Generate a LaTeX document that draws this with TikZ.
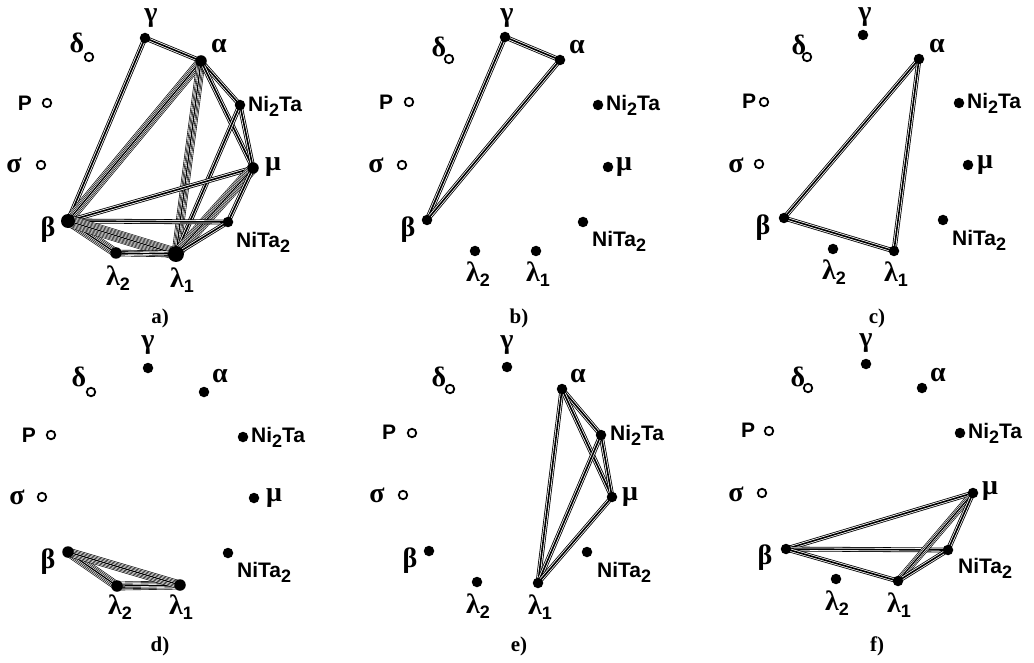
\documentclass[tikz,border=0pt]{standalone}
\usepackage{fontspec}
\setmainfont{Liberation Serif}
\newfontfamily\sfb{Liberation Sans}
\pgfdeclarelayer{bg}
\pgfsetlayers{bg,main}
\newcommand{\bund}[4]{%
  \pgfmathtruncatemacro{\bn}{2*#1-2}%
  \foreach \i in {0,...,\bn}{%
    \pgfmathsetmacro{\bw}{(2*#1-1-\i)*#2}%
    \ifodd\i\relax \def\bc{white}\else\def\bc{black}\fi
    \draw[line width=\bw pt,draw=\bc] (#3.center) -- (#4.center);
  }}
\newcommand{\dd}[2]{\bund{2}{1.6}{#1}{#2}}
\newcommand{\gsub}[2]{#1\raisebox{-5pt}{\sfb\bfseries\fontsize{18}{18}\selectfont #2}}
\newcommand{\tsub}[1]{\raisebox{-5pt}{\fontsize{18}{18}\selectfont #1}}
\tikzset{
  dot/.style={circle,fill=black,inner sep=0pt,minimum size=10.5pt},
  bigdot/.style={circle,fill=black,inner sep=0pt,minimum size=14pt},
  odot/.style={circle,draw=black,line width=1.8pt,fill=white,inner sep=0pt,minimum size=8.5pt},
  gk/.style={inner sep=0pt,font=\bfseries\fontsize{28}{28}\selectfont},
  sl/.style={inner sep=0pt,font=\sfb\bfseries\fontsize{21}{21}\selectfont},
  captxt/.style={inner sep=0pt,font=\bfseries\fontsize{21}{21}\selectfont}
}
\begin{document}
\begin{tikzpicture}[x=1pt,y=-1pt]
\useasboundingbox (0,0) rectangle (1034,663);
% ---------- panel a ----------
\node[dot] (a-ga) at (145,38) {};  \node[gk] (a-tga) at (151,18) {γ};
\node[dot,minimum size=11.5pt] (a-al) at (201,61) {};  \node[gk] (a-tal) at (219,46) {α};
\node[odot] (a-de) at (89,57) {};  \node[gk] (a-tde) at (77,43) {δ};
\node[odot] (a-P) at (47,103) {};  \node[sl] (a-tP) at (25,103) {P};
\node[odot] (a-si) at (41,165) {}; \node[gk] (a-tsi) at (14,165) {σ};
\node[dot] (a-n2) at (240,105) {}; \node[sl,anchor=west] (a-tn2) at (248,106) {Ni\tsub{2}Ta};
\node[dot,minimum size=11.5pt] (a-mu) at (253,168) {}; \node[gk] (a-tmu) at (273,167) {μ};
\node[bigdot] (a-be) at (68,221) {}; \node[gk] (a-tbe) at (48,230) {β};
\node[dot] (a-nt) at (228,222) {}; \node[sl,anchor=west] (a-tnt) at (236,242) {NiTa\tsub{2}};
\node[dot,minimum size=11.5pt] (a-l2) at (116,253) {}; \node[gk] (a-tl2) at (118,278) {\gsub{λ}{2}};
\node[bigdot,minimum size=16pt] (a-l1) at (176,254) {}; \node[gk] (a-tl1) at (182,280) {\gsub{λ}{1}};
\node[captxt] (a-cap) at (160,318) {a)};
% ---------- panel b ----------
\node[dot] (b-ga) at (505,37) {};  \node[gk] (b-tga) at (507,18) {γ};
\node[dot] (b-al) at (560,60) {};  \node[gk] (b-tal) at (577,47) {α};
\node[odot] (b-de) at (449,59) {}; \node[gk] (b-tde) at (439,47) {δ};
\node[odot] (b-P) at (409,102) {}; \node[sl] (b-tP) at (386,102) {P};
\node[odot] (b-si) at (402,165) {}; \node[gk] (b-tsi) at (376,165) {σ};
\node[dot] (b-n2) at (598,105) {}; \node[sl,anchor=west] (b-tn2) at (606,105) {Ni\tsub{2}Ta};
\node[dot] (b-mu) at (608,167) {}; \node[gk] (b-tmu) at (624,167) {μ};
\node[dot] (b-be) at (427,220) {}; \node[gk] (b-tbe) at (408,230) {β};
\node[dot] (b-nt) at (583,222) {}; \node[sl,anchor=west] (b-tnt) at (592,241) {NiTa\tsub{2}};
\node[dot] (b-l2) at (475,251) {}; \node[gk] (b-tl2) at (478,274) {\gsub{λ}{2}};
\node[dot] (b-l1) at (536,251) {}; \node[gk] (b-tl1) at (538,274) {\gsub{λ}{1}};
\node[captxt] (b-cap) at (519,318) {b)};
% ---------- panel c ----------
\node[dot] (c-ga) at (863,35) {};  \node[gk] (c-tga) at (865,17) {γ};
\node[dot] (c-al) at (919,59) {};  \node[gk] (c-tal) at (937,46) {α};
\node[odot] (c-de) at (807,57) {}; \node[gk] (c-tde) at (799,45) {δ};
\node[odot] (c-P) at (764,102) {}; \node[sl] (c-tP) at (749,101) {P};
\node[odot] (c-si) at (759,164) {}; \node[gk] (c-tsi) at (736,165) {σ};
\node[dot] (c-n2) at (959,103) {}; \node[sl,anchor=west] (c-tn2) at (967,103) {Ni\tsub{2}Ta};
\node[dot] (c-mu) at (968,165) {}; \node[gk] (c-tmu) at (985,165) {μ};
\node[dot] (c-be) at (784,218) {}; \node[gk] (c-tbe) at (763,228) {β};
\node[dot] (c-nt) at (943,220) {}; \node[sl,anchor=west] (c-tnt) at (952,240) {NiTa\tsub{2}};
\node[dot] (c-l2) at (833,249) {}; \node[gk] (c-tl2) at (834,272) {\gsub{λ}{2}};
\node[dot] (c-l1) at (894,251) {}; \node[gk] (c-tl1) at (896,274) {\gsub{λ}{1}};
\node[captxt] (c-cap) at (877,318) {c)};
% ---------- panel d ----------
\node[dot] (d-ga) at (148,368) {};  \node[gk] (d-tga) at (148,345) {γ};
\node[dot] (d-al) at (204,392) {};  \node[gk] (d-tal) at (220,376) {α};
\node[odot] (d-de) at (91,392) {}; \node[gk] (d-tde) at (79,377) {δ};
\node[odot] (d-P) at (51,435) {}; \node[sl] (d-tP) at (29,435) {P};
\node[odot] (d-si) at (42,497) {}; \node[gk] (d-tsi) at (17,497) {σ};
\node[dot] (d-n2) at (243,437) {}; \node[sl,anchor=west] (d-tn2) at (251,437) {Ni\tsub{2}Ta};
\node[dot] (d-mu) at (254,498) {}; \node[gk] (d-tmu) at (274,498) {μ};
\node[dot,minimum size=11.5pt] (d-be) at (68,552) {}; \node[gk] (d-tbe) at (48,562) {β};
\node[dot] (d-nt) at (228,553) {}; \node[sl,anchor=west] (d-tnt) at (237,572) {NiTa\tsub{2}};
\node[dot,minimum size=11.5pt] (d-l2) at (117,586) {}; \node[gk] (d-tl2) at (120,607) {\gsub{λ}{2}};
\node[dot,minimum size=11.5pt] (d-l1) at (180,585) {}; \node[gk] (d-tl1) at (181,607) {\gsub{λ}{1}};
\node[captxt] (d-cap) at (160,646) {d)};
% ---------- panel e ----------
\node[dot] (e-ga) at (507,367) {};  \node[gk] (e-tga) at (507,345) {γ};
\node[dot] (e-al) at (562,389) {};  \node[gk] (e-tal) at (578,376) {α};
\node[odot] (e-de) at (450,389) {}; \node[gk] (e-tde) at (439,377) {δ};
\node[odot] (e-P) at (412,433) {}; \node[sl] (e-tP) at (389,432) {P};
\node[odot] (e-si) at (403,495) {}; \node[gk] (e-tsi) at (377,495) {σ};
\node[dot] (e-n2) at (601,435) {}; \node[sl,anchor=west] (e-tn2) at (610,435) {Ni\tsub{2}Ta};
\node[dot] (e-mu) at (612,497) {}; \node[gk] (e-tmu) at (630,497) {μ};
\node[dot] (e-be) at (429,551) {}; \node[gk] (e-tbe) at (410,561) {β};
\node[dot] (e-nt) at (587,552) {}; \node[sl,anchor=west] (e-tnt) at (597,572) {NiTa\tsub{2}};
\node[dot] (e-l2) at (477,582) {}; \node[gk] (e-tl2) at (478,606) {\gsub{λ}{2}};
\node[dot] (e-l1) at (538,583) {}; \node[gk] (e-tl1) at (540,607) {\gsub{λ}{1}};
\node[captxt] (e-cap) at (519,646) {e)};
% ---------- panel f ----------
\node[dot] (f-ga) at (866,364) {};  \node[gk] (f-tga) at (866,343) {γ};
\node[dot] (f-al) at (922,388) {};  \node[gk] (f-tal) at (938,375) {α};
\node[odot] (f-de) at (808,388) {}; \node[gk] (f-tde) at (798,377) {δ};
\node[odot] (f-P) at (769,431) {}; \node[sl] (f-tP) at (748,430) {P};
\node[odot] (f-si) at (762,493) {}; \node[gk] (f-tsi) at (736,494) {σ};
\node[dot] (f-n2) at (960,433) {}; \node[sl,anchor=west] (f-tn2) at (968,433) {Ni\tsub{2}Ta};
\node[dot] (f-mu) at (973,493) {}; \node[gk] (f-tmu) at (990,491) {μ};
\node[dot] (f-be) at (786,549) {}; \node[gk] (f-tbe) at (765,558) {β};
\node[dot] (f-nt) at (948,550) {}; \node[sl,anchor=west] (f-tnt) at (958,568) {NiTa\tsub{2}};
\node[dot] (f-l2) at (836,579) {}; \node[gk] (f-tl2) at (837,603) {\gsub{λ}{2}};
\node[dot] (f-l1) at (898,581) {}; \node[gk] (f-tl1) at (899,605) {\gsub{λ}{1}};
\node[captxt] (f-cap) at (877,646) {f)};
% ---------- connectors ----------
\begin{pgfonlayer}{bg}
% a
\dd{a-ga}{a-al} \dd{a-ga}{a-be}
\bund{4}{1.3}{a-al}{a-be}
\bund{4}{1.25}{a-al}{a-l1}
\dd{a-al}{a-n2} \dd{a-al}{a-mu} \dd{a-n2}{a-mu} \dd{a-n2}{a-l1}
\dd{a-mu}{a-be}
\bund{5}{1.15}{a-mu}{a-l1}
\dd{a-mu}{a-nt} \dd{a-be}{a-nt}
\bund{4}{1.25}{a-be}{a-l2}
\bund{6}{1.1}{a-be}{a-l1}
\bund{3}{1.3}{a-l2}{a-l1}
\dd{a-nt}{a-l1}
% b
\dd{b-be}{b-ga} \dd{b-ga}{b-al} \dd{b-al}{b-be}
% c
\dd{c-al}{c-be} \dd{c-be}{c-l1} \dd{c-al}{c-l1}
% d
\bund{4}{1.25}{d-be}{d-l2}
\bund{4}{1.25}{d-l2}{d-l1}
\bund{4}{1.25}{d-be}{d-l1}
% e
\dd{e-al}{e-l1} \dd{e-al}{e-n2} \dd{e-al}{e-mu} \dd{e-n2}{e-mu} \dd{e-n2}{e-l1} \dd{e-mu}{e-l1}
% f
\dd{f-be}{f-mu} \dd{f-be}{f-nt} \dd{f-be}{f-l1} \bund{3}{1.3}{f-mu}{f-l1} \dd{f-mu}{f-nt} \dd{f-nt}{f-l1}
\end{pgfonlayer}
\end{tikzpicture}
\end{document}
